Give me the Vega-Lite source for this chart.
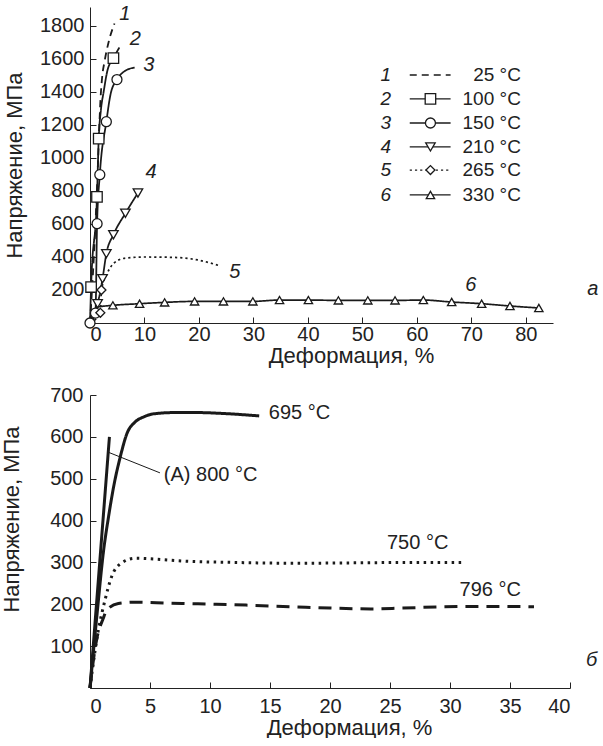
{
  "$schema": "https://vega.github.io/schema/vega-lite/v6.json",
  "background": "white",
  "padding": {"left": 0, "top": 3, "right": 0, "bottom": 0},
  "spacing": 19,
  "resolve": {"scale": {"strokeDash": "independent", "strokeWidth": "independent", "shape": "independent", "size": "independent"}},
  "config": {
    "view": {"stroke": null},
    "font": "Liberation Sans",
    "axis": {
      "grid": false,
      "domainColor": "#222",
      "tickColor": "#222",
      "labelColor": "#222",
      "titleColor": "#222",
      "labelFont": "Liberation Sans",
      "titleFont": "Liberation Sans",
      "labelFontSize": 20,
      "titleFontSize": 22,
      "titleFontWeight": "normal",
      "tickSize": -6,
      "domainWidth": 1,
      "tickWidth": 1,
      "labelOverlap": false,
      "format": "d"
    },
    "text": {"font": "Liberation Sans", "fontSize": 19, "color": "#222"}
  },
  "datasets": {
    "curves": [
      {"s": "1", "x": 0, "y": 0, "m": 0},
      {"s": "1", "x": 1.0, "y": 600, "m": 0},
      {"s": "1", "x": 1.5, "y": 1000, "m": 0},
      {"s": "1", "x": 1.9, "y": 1340, "m": 0},
      {"s": "1", "x": 2.2, "y": 1480, "m": 0},
      {"s": "1", "x": 2.7, "y": 1590, "m": 0},
      {"s": "1", "x": 3.4, "y": 1700, "m": 0},
      {"s": "1", "x": 4.5, "y": 1815, "m": 0},

      {"s": "2", "x": 0, "y": 0, "m": 0},
      {"s": "2", "x": 0.2, "y": 218, "m": 1},
      {"s": "2", "x": 1.28, "y": 764, "m": 1},
      {"s": "2", "x": 1.6, "y": 1117, "m": 1},
      {"s": "2", "x": 2.0, "y": 1290, "m": 0},
      {"s": "2", "x": 2.5, "y": 1400, "m": 0},
      {"s": "2", "x": 3.2, "y": 1530, "m": 0},
      {"s": "2", "x": 4.3, "y": 1605, "m": 1},
      {"s": "2", "x": 5.4, "y": 1670, "m": 0},

      {"s": "3", "x": 0, "y": 0, "m": 1},
      {"s": "3", "x": 1.0, "y": 60, "m": 1},
      {"s": "3", "x": 1.3, "y": 602, "m": 1},
      {"s": "3", "x": 1.8, "y": 899, "m": 1},
      {"s": "3", "x": 3.0, "y": 1220, "m": 1},
      {"s": "3", "x": 3.8, "y": 1390, "m": 0},
      {"s": "3", "x": 4.95, "y": 1475, "m": 1},
      {"s": "3", "x": 6.3, "y": 1525, "m": 0},
      {"s": "3", "x": 8.2, "y": 1548, "m": 0},

      {"s": "4", "x": 0, "y": 0, "m": 0},
      {"s": "4", "x": 1.4, "y": 117, "m": 1},
      {"s": "4", "x": 2.3, "y": 268, "m": 1},
      {"s": "4", "x": 3.0, "y": 420, "m": 1},
      {"s": "4", "x": 4.3, "y": 535, "m": 1},
      {"s": "4", "x": 6.5, "y": 665, "m": 1},
      {"s": "4", "x": 8.8, "y": 788, "m": 1},

      {"s": "5", "x": 0, "y": 0, "m": 0},
      {"s": "5", "x": 1.9, "y": 62, "m": 1},
      {"s": "5", "x": 2.1, "y": 200, "m": 1},
      {"s": "5", "x": 3.0, "y": 289, "m": 0},
      {"s": "5", "x": 4.3, "y": 360, "m": 0},
      {"s": "5", "x": 6.3, "y": 392, "m": 0},
      {"s": "5", "x": 10, "y": 400, "m": 0},
      {"s": "5", "x": 15, "y": 398, "m": 0},
      {"s": "5", "x": 19.8, "y": 382, "m": 0},
      {"s": "5", "x": 23.5, "y": 350, "m": 0},

      {"s": "6", "x": 0, "y": 0, "m": 0},
      {"s": "6", "x": 1.2, "y": 95, "m": 0},
      {"s": "6", "x": 4.2, "y": 107, "m": 1},
      {"s": "6", "x": 9.1, "y": 117, "m": 1},
      {"s": "6", "x": 13.7, "y": 125, "m": 1},
      {"s": "6", "x": 19.2, "y": 131, "m": 1},
      {"s": "6", "x": 24.5, "y": 131, "m": 1},
      {"s": "6", "x": 29.9, "y": 131, "m": 1},
      {"s": "6", "x": 34.8, "y": 139, "m": 1},
      {"s": "6", "x": 40.1, "y": 139, "m": 1},
      {"s": "6", "x": 45.6, "y": 137, "m": 1},
      {"s": "6", "x": 51.0, "y": 137, "m": 1},
      {"s": "6", "x": 56.0, "y": 137, "m": 1},
      {"s": "6", "x": 61.2, "y": 139, "m": 1},
      {"s": "6", "x": 66.4, "y": 127, "m": 1},
      {"s": "6", "x": 71.9, "y": 117, "m": 1},
      {"s": "6", "x": 77.1, "y": 103, "m": 1},
      {"s": "6", "x": 82.4, "y": 91, "m": 1}
    ],
    "curveLabels": [
      {"t": "1", "x": 6.4, "y": 1873},
      {"t": "2", "x": 8.3, "y": 1721},
      {"t": "3", "x": 10.8, "y": 1564},
      {"t": "4", "x": 11.2, "y": 915},
      {"t": "5", "x": 26.6, "y": 309},
      {"t": "6", "x": 69.9, "y": 230}
    ],
    "legend": [
      {"s": "1", "n": "1", "t": "25 °C", "y": 1503},
      {"s": "2", "n": "2", "t": "100 °C", "y": 1358},
      {"s": "3", "n": "3", "t": "150 °C", "y": 1212},
      {"s": "4", "n": "4", "t": "210 °C", "y": 1067},
      {"s": "5", "n": "5", "t": "265 °C", "y": 927},
      {"s": "6", "n": "6", "t": "330 °C", "y": 776}
    ],
    "hot": [
      {"c": "695", "x": 0, "y": 0},
      {"c": "695", "x": 0.6, "y": 180},
      {"c": "695", "x": 1.14, "y": 330},
      {"c": "695", "x": 1.55, "y": 410},
      {"c": "695", "x": 1.97, "y": 481},
      {"c": "695", "x": 2.53, "y": 553},
      {"c": "695", "x": 3.08, "y": 608},
      {"c": "695", "x": 3.78, "y": 636},
      {"c": "695", "x": 4.5, "y": 648},
      {"c": "695", "x": 5.3, "y": 655},
      {"c": "695", "x": 7, "y": 658},
      {"c": "695", "x": 9, "y": 658},
      {"c": "695", "x": 11, "y": 656},
      {"c": "695", "x": 14.1, "y": 650},

      {"c": "800", "x": 0, "y": 0},
      {"c": "800", "x": 1.62, "y": 600},

      {"c": "750", "x": 0, "y": 0},
      {"c": "750", "x": 0.7, "y": 139},
      {"c": "750", "x": 1.0, "y": 180},
      {"c": "750", "x": 1.25, "y": 210},
      {"c": "750", "x": 1.8, "y": 266},
      {"c": "750", "x": 2.6, "y": 298},
      {"c": "750", "x": 3.75, "y": 310},
      {"c": "750", "x": 5.4, "y": 308},
      {"c": "750", "x": 8, "y": 303},
      {"c": "750", "x": 12, "y": 300},
      {"c": "750", "x": 17, "y": 298},
      {"c": "750", "x": 22, "y": 299},
      {"c": "750", "x": 27, "y": 300},
      {"c": "750", "x": 31, "y": 300},

      {"c": "796", "x": 0, "y": 0},
      {"c": "796", "x": 0.3, "y": 70},
      {"c": "796", "x": 0.55, "y": 115},
      {"c": "796", "x": 1.1, "y": 166},
      {"c": "796", "x": 1.4, "y": 186},
      {"c": "796", "x": 2.36, "y": 202},
      {"c": "796", "x": 3.75, "y": 205},
      {"c": "796", "x": 6.4, "y": 203},
      {"c": "796", "x": 9, "y": 201},
      {"c": "796", "x": 13, "y": 198},
      {"c": "796", "x": 17, "y": 194},
      {"c": "796", "x": 20, "y": 191},
      {"c": "796", "x": 23.4, "y": 189},
      {"c": "796", "x": 26, "y": 191},
      {"c": "796", "x": 29.5, "y": 194},
      {"c": "796", "x": 33, "y": 195},
      {"c": "796", "x": 37, "y": 194}
    ],
    "hotLabels": [
      {"t": "695 °C", "x": 14.9, "y": 657},
      {"t": "(A) 800 °C", "x": 6.15, "y": 509},
      {"t": "750 °C", "x": 24.75, "y": 346},
      {"t": "796 °C", "x": 30.8, "y": 234}
    ],
    "leader": [
      {"x": 1.55, "y": 563, "x2": 5.83, "y2": 514}
    ]
  },
  "vconcat": [
    {
      "width": 463,
      "height": 316,
      "layer": [
        {
          "data": {"name": "curves"},
          "mark": {"type": "line", "interpolate": "monotone", "color": "#1a1a1a"},
          "encoding": {
            "x": {
              "field": "x", "type": "quantitative",
              "scale": {"domain": [0, 85], "nice": false, "zero": false},
              "axis": {"values": [0, 10, 20, 30, 40, 50, 60, 70, 80], "tickCount": 12, "title": "Деформация, %", "labelPadding": 7, "titlePadding": 1, "titleX": 261, "labelOverlap": false}
            },
            "y": {
              "field": "y", "type": "quantitative",
              "scale": {"domain": [0, 1915], "nice": false},
              "axis": {"values": [200, 400, 600, 800, 1000, 1200, 1400, 1600, 1800], "tickCount": 12, "title": "Напряжение, МПа", "labelPadding": 12, "titlePadding": 13, "labelOverlap": false}
            },
            "detail": {"field": "s"},
            "strokeDash": {
              "field": "s", "type": "nominal", "legend": null,
              "scale": {"domain": ["1", "2", "3", "4", "5", "6"], "range": [[7, 5], [1, 0], [1, 0], [1, 0], [2.2, 3], [1, 0]]}
            },
            "strokeWidth": {
              "field": "s", "type": "nominal", "legend": null,
              "scale": {"domain": ["1", "2", "3", "4", "5", "6"], "range": [1.8, 1.7, 1.7, 1.7, 2.6, 1.7]}
            }
          }
        },
        {
          "data": {"name": "curves"},
          "transform": [{"filter": "datum.m == 1"}],
          "mark": {"type": "point", "filled": false, "fill": "white", "fillOpacity": 1, "stroke": "#1a1a1a", "strokeWidth": 1.3, "opacity": 1},
          "encoding": {
            "x": {"field": "x", "type": "quantitative"},
            "y": {"field": "y", "type": "quantitative"},
            "shape": {
              "field": "s", "type": "nominal", "legend": null,
              "scale": {"domain": ["2", "3", "4", "5", "6"], "range": ["square", "circle", "triangle-down", "diamond", "triangle-up"]}
            },
            "size": {
              "field": "s", "type": "nominal", "legend": null,
              "scale": {"domain": ["2", "3", "4", "5", "6"], "range": [110, 70, 250, 200, 250]}
            }
          }
        },
        {
          "data": {"name": "curveLabels"},
          "mark": {"type": "text", "fontStyle": "italic", "fontSize": 20, "align": "center", "baseline": "middle"},
          "encoding": {
            "x": {"field": "x", "type": "quantitative"},
            "y": {"field": "y", "type": "quantitative"},
            "text": {"field": "t"}
          }
        },
        {
          "data": {"name": "legend"},
          "mark": {"type": "rule", "color": "#1a1a1a", "strokeWidth": 1.3},
          "encoding": {
            "x": {"datum": 58.7},
            "x2": {"datum": 66.2},
            "y": {"field": "y", "type": "quantitative"},
            "strokeDash": {"field": "s", "type": "nominal", "legend": null}
          }
        },
        {
          "data": {"name": "legend"},
          "transform": [{"filter": "datum.s != '1'"}],
          "mark": {"type": "point", "filled": false, "fill": "white", "fillOpacity": 1, "stroke": "#1a1a1a", "strokeWidth": 1.3, "opacity": 1},
          "encoding": {
            "x": {"datum": 62.5},
            "y": {"field": "y", "type": "quantitative"},
            "shape": {"field": "s", "type": "nominal", "legend": null},
            "size": {"field": "s", "type": "nominal", "legend": null}
          }
        },
        {
          "data": {"name": "legend"},
          "mark": {"type": "text", "fontStyle": "italic", "fontSize": 19, "align": "center", "baseline": "middle"},
          "encoding": {
            "x": {"datum": 54.3},
            "y": {"field": "y", "type": "quantitative"},
            "text": {"field": "n"}
          }
        },
        {
          "data": {"name": "legend"},
          "mark": {"type": "text", "fontSize": 19, "align": "right", "baseline": "middle"},
          "encoding": {
            "x": {"datum": 79.1},
            "y": {"field": "y", "type": "quantitative"},
            "text": {"field": "t"}
          }
        },
        {
          "data": {"values": [{"t": "а", "x": 92.3, "y": 206}]},
          "mark": {"type": "text", "fontStyle": "italic", "fontSize": 20, "align": "center", "baseline": "middle"},
          "encoding": {
            "x": {"field": "x", "type": "quantitative"},
            "y": {"field": "y", "type": "quantitative"},
            "text": {"field": "t"}
          }
        }
      ]
    },
    {
      "width": 480,
      "height": 293,
      "layer": [
        {
          "data": {"name": "hot"},
          "mark": {"type": "line", "interpolate": "monotone", "color": "#1a1a1a"},
          "encoding": {
            "x": {
              "field": "x", "type": "quantitative",
              "scale": {"domain": [0, 40], "nice": false},
              "axis": {"values": [0, 5, 10, 15, 20, 25, 30, 35, 40], "tickCount": 12, "title": "Деформация, %", "labelPadding": 14, "titlePadding": 1, "titleX": 259, "labelOverlap": false}
            },
            "y": {
              "field": "y", "type": "quantitative",
              "scale": {"domain": [0, 700], "nice": false},
              "axis": {"values": [100, 200, 300, 400, 500, 600, 700], "tickCount": 12, "title": "Напряжение, МПа", "labelPadding": 13, "titlePadding": 26, "titleY": 124, "labelOverlap": false}
            },
            "detail": {"field": "c"},
            "strokeDash": {
              "field": "c", "type": "nominal", "legend": null,
              "scale": {"domain": ["695", "800", "750", "796"], "range": [[1, 0], [1, 0], [2.5, 4.5], [13, 8]]}
            },
            "strokeWidth": {
              "field": "c", "type": "nominal", "legend": null,
              "scale": {"domain": ["695", "800", "750", "796"], "range": [3, 3, 3, 3]}
            }
          }
        },
        {
          "data": {"name": "leader"},
          "mark": {"type": "rule", "color": "#1a1a1a", "strokeWidth": 1},
          "encoding": {
            "x": {"field": "x", "type": "quantitative"},
            "y": {"field": "y", "type": "quantitative"},
            "x2": {"field": "x2"},
            "y2": {"field": "y2"}
          }
        },
        {
          "data": {"name": "hotLabels"},
          "mark": {"type": "text", "fontSize": 20, "align": "left", "baseline": "middle"},
          "encoding": {
            "x": {"field": "x", "type": "quantitative"},
            "y": {"field": "y", "type": "quantitative"},
            "text": {"field": "t"}
          }
        },
        {
          "data": {"values": [{"t": "б", "x": 41.8, "y": 67}]},
          "mark": {"type": "text", "fontStyle": "italic", "fontSize": 20, "align": "center", "baseline": "middle"},
          "encoding": {
            "x": {"field": "x", "type": "quantitative"},
            "y": {"field": "y", "type": "quantitative"},
            "text": {"field": "t"}
          }
        }
      ]
    }
  ]
}
